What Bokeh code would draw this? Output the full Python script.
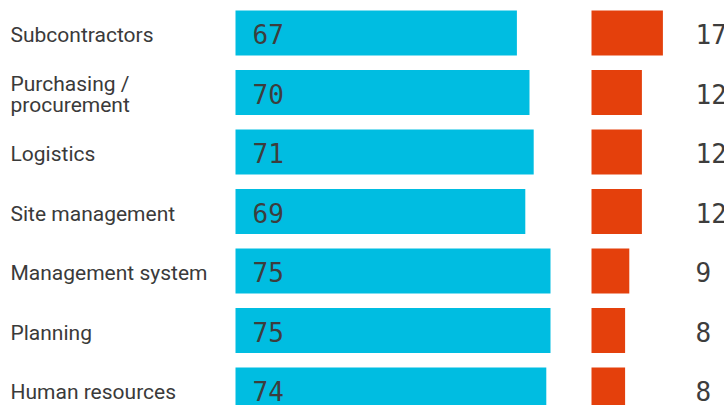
from bokeh.plotting import figure
from bokeh.models import Range1d, ColumnDataSource
from bokeh.core.properties import value
from bokeh.embed import file_html
from bokeh.resources import INLINE

categories = ["Subcontractors", "Purchasing /\nprocurement", "Logistics",
              "Site management", "Management system", "Planning", "Human resources"]
blue_values = [67, 70, 71, 69, 75, 75, 74]
red_values = [17, 12, 12, 12, 9, 8, 8]

W, H = 724, 405
k = 4.2          # px per unit
x0_px = 235      # left edge of blue bars
red_x_px = 591   # left edge of red bars
red_lbl_px = 695
pitch = 59.5
top_center = 32.5

xmin = -x0_px / k
xmax = (W - x0_px) / k
red_off = (red_x_px - x0_px) / k
red_lbl = (red_lbl_px - x0_px) / k

n = len(categories)
ys = list(range(n))
y_top = -top_center / pitch
y_bot = y_top + H / pitch

src = ColumnDataSource(dict(
    y=ys, cat=categories, blue=blue_values, red=red_values,
    blue_txt=[str(v) for v in blue_values], red_txt=[str(v) for v in red_values],
    red_left=[red_off] * n, red_right=[red_off + v for v in red_values],
    zero=[0] * n, lab_x=[xmin] * n, red_lbl_x=[red_lbl] * n,
))

p = figure(width=W, height=H, output_backend="svg", toolbar_location=None,
           x_range=Range1d(xmin, xmax), y_range=Range1d(y_bot, y_top),
           min_border=0, outline_line_color=None)
p.axis.visible = False
p.grid.visible = False
p.background_fill_color = "white"
p.border_fill_color = "white"

bh = 45 / pitch
p.hbar(y="y", left="zero", right="blue", height=bh, source=src,
       fill_color="#00BDE1", line_color=None)
p.hbar(y="y", left="red_left", right="red_right", height=bh, source=src,
       fill_color="#E4400C", line_color=None)

p.text(x="lab_x", y="y", text="cat", source=src, x_offset=10, y_offset=2,
       text_font=value("Roboto"), text_font_size="21px", text_color="#3a3a3a",
       text_baseline="middle", text_align="left", text_line_height=0.9)
p.text(x="zero", y="y", text="blue_txt", source=src, x_offset=17, y_offset=1,
       text_font=value("DejaVu Sans Mono"), text_font_size="26px", text_color="#3d3d3d",
       text_baseline="middle", text_align="left")
p.text(x="red_lbl_x", y="y", text="red_txt", source=src, y_offset=1,
       text_font=value("DejaVu Sans Mono"), text_font_size="26px", text_color="#3d3d3d",
       text_baseline="middle", text_align="left")

open("out.html", "w").write(file_html(p, INLINE))
